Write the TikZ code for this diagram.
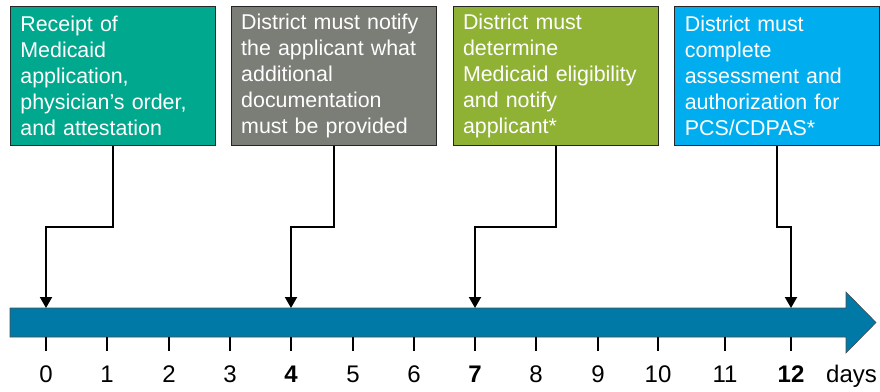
\documentclass[tikz,border=0pt]{standalone}
\usepackage{fontspec}
\setmainfont{Liberation Sans}
\usepackage{tikz}
\usetikzlibrary{positioning,arrows.meta,calc}

\definecolor{stepteal}{RGB}{0,168,142}
\definecolor{stepgray}{RGB}{122,126,119}
\definecolor{stepgreen}{RGB}{143,178,52}
\definecolor{stepblue}{RGB}{0,174,239}
\definecolor{barblue}{RGB}{0,121,167}

\begin{document}
\begin{tikzpicture}[x=1pt, y=-1pt, box/.style={draw=black!85, line width=0.8pt, anchor=north west, minimum width=205pt, minimum height=139pt, text width=185pt, inner xsep=10pt, align=left, text=white, font=\fontsize{21.4}{26}\selectfont}, conn/.style={line width=2pt, -{Triangle[width=12pt,length=11pt]}}, tick/.style={line width=2.2pt}, daylabel/.style={anchor=base, inner sep=0pt, font=\fontsize{24}{28}\selectfont}]
    \useasboundingbox (0,0) rectangle (880,391);
    % milestone boxes
    \node[box, fill=stepteal] (b1) at (10,6) {Receipt of\\Medicaid\\application,\\physician’s order,\\and attestation};
    \node[box, fill=stepgray, right=15pt of b1.north east, anchor=north west] (b2) {District must notify\\the applicant what\\additional\\documentation\\must be provided};
    \node[box, fill=stepgreen, right=16pt of b2.north east, anchor=north west] (b3) {District must\\determine\\Medicaid eligibility\\and notify\\applicant*};
    \node[box, fill=stepblue, right=16pt of b3.north east, anchor=north west] (b4) {District must\\complete\\assessment and\\authorization for\\PCS/CDPAS*};
    % timeline bar
    \draw[draw=black!70, line width=0.6pt, fill=barblue] (10,308) -- (846,308) -- (846,292) -- (876,322.5) -- (846,353) -- (846,337) -- (10,337) -- cycle;
    \foreach \x/\d [count=\i from 0] in {46/0, 107/1, 169/2, 230/3, 291/\textbf{4}, 353/5, 414/6, 475/\textbf{7}, 536/8, 598/9, 658/10, 725/11, 791/\textbf{12}} {
        \coordinate (t\i) at (\x,308);
        \coordinate (s\i) at (\x,337);
        \draw[tick] (s\i) -- ++(0,14);
        \node[daylabel] (l\i) at (\x,382) {\d};
    }
    \node[daylabel, anchor=base west] (days) at (826,382) {days};
    % connectors from boxes to the bar
    \coordinate (elbow) at (0,227);
    \draw[conn] (b1.south) -- (b1.south |- elbow) -| (t0);
    \draw[conn] (b2.south) -- (b2.south |- elbow) -| (t4);
    \draw[conn] (b3.south) -- (b3.south |- elbow) -| (t7);
    \draw[conn] (b4.south) -- (b4.south |- elbow) -| (t12);
\end{tikzpicture}
\end{document}
